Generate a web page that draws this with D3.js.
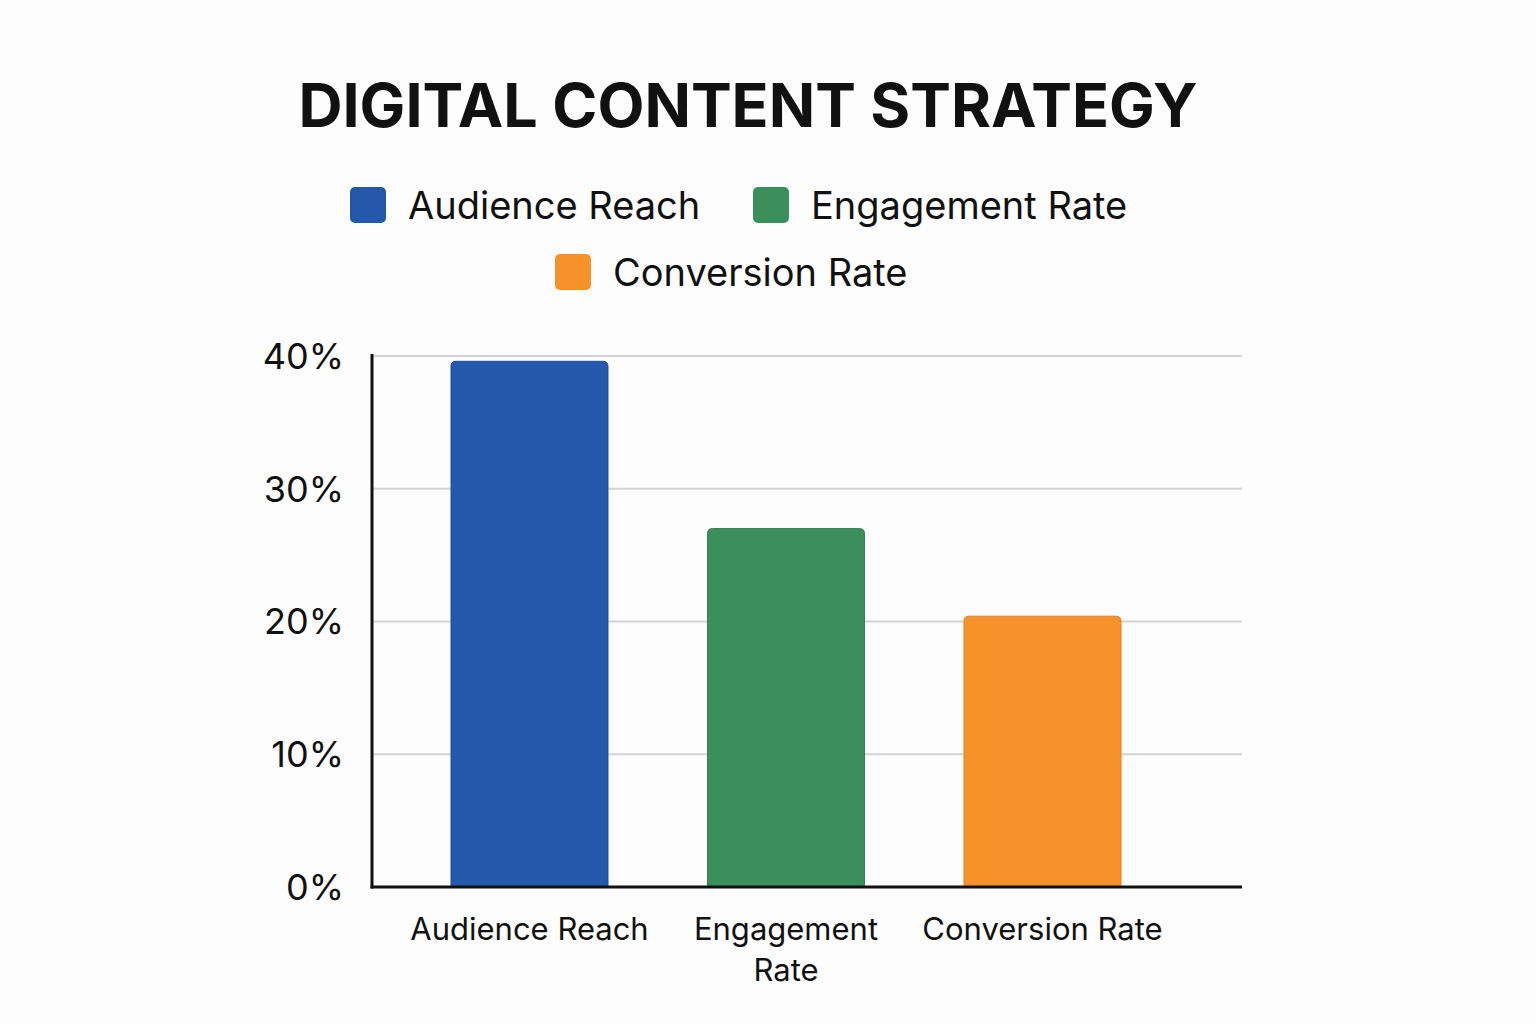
<!DOCTYPE html>
<html>
<head>
<meta charset="utf-8">
<script src="https://cdn.jsdelivr.net/npm/d3@7"></script>
<style>
  body { margin: 0; background: #fdfdfd; }
  text { font-family: Inter, 'Noto Sans', sans-serif; fill: #111; }
</style>
</head>
<body>
<div id="viz"></div>
<script>
// data
const categories = ['Audience Reach', 'Engagement Rate', 'Conversion Rate'];
const axisLabels = [['Audience Reach'], ['Engagement', 'Rate'], ['Conversion Rate']];
const values = [39.6, 27, 20.4];
const colors = ['#2358ac', '#3a8f5b', '#f7922b'];
const yTicks = [0, 10, 20, 30, 40];

const width = 1536;
const height = 1024;

let svg = d3
  .select('#viz')
  .append('svg')
  .attr('width', width)
  .attr('height', height);

svg.append('rect').attr('width', width).attr('height', height).attr('fill', '#fdfdfd');

// scales
const plotLeft = 372, plotRight = 1242, plotTop = 356, plotBottom = 887;
let x = d3.scaleBand()
  .domain(categories)
  .range([plotLeft, 1200])
  .paddingInner(0.388)
  .paddingOuter(0.308);
let y = d3.scaleLinear().domain([0, 40]).range([plotBottom, plotTop]);

// title
svg.append('text')
  .attr('x', 748)
  .attr('y', 127)
  .attr('text-anchor', 'middle')
  .style('font-size', '61px')
  .style('font-weight', 700)
  .text('DIGITAL CONTENT STRATEGY');

// legend
const legendPos = [[350, 187], [753, 187], [555, 254]];
let legend = svg.append('g')
  .selectAll('g')
  .data(categories)
  .enter()
  .append('g')
  .attr('transform', (d, i) => `translate(${legendPos[i][0]},${legendPos[i][1]})`);

legend.append('rect')
  .attr('width', 36)
  .attr('height', 36)
  .attr('rx', 5)
  .attr('fill', (d, i) => colors[i]);

legend.append('text')
  .attr('x', 58)
  .attr('y', 32)
  .style('font-size', '38px')
  .text((d) => d);

// gridlines
svg.append('g')
  .selectAll('line')
  .data(yTicks.slice(1))
  .enter()
  .append('line')
  .attr('x1', plotLeft)
  .attr('x2', plotRight)
  .attr('y1', (d) => y(d))
  .attr('y2', (d) => y(d))
  .attr('stroke', '#d4d4d4')
  .attr('stroke-width', 2);

// y tick labels
svg.append('g')
  .selectAll('text')
  .data(yTicks)
  .enter()
  .append('text')
  .attr('x', 344)
  .attr('y', (d) => y(d))
  .attr('dy', '0.36em')
  .attr('text-anchor', 'end')
  .style('font-size', '36px')
  .text((d) => d + '%');

// bars, rounded top corners only
function barPath(x0, y0, w, h, r) {
  return `M${x0},${y0 + h}V${y0 + r}Q${x0},${y0} ${x0 + r},${y0}` +
    `H${x0 + w - r}Q${x0 + w},${y0} ${x0 + w},${y0 + r}V${y0 + h}Z`;
}

svg.append('g')
  .selectAll('path')
  .data(values)
  .enter()
  .append('path')
  .attr('d', (d, i) => barPath(x(categories[i]), y(d), x.bandwidth(), y(0) - y(d), 5))
  .attr('fill', (d, i) => colors[i])
  .attr('stroke', (d, i) => d3.color(colors[i]).darker(0.3))
  .attr('stroke-width', 1);

// axes lines
svg.append('line')
  .attr('x1', plotLeft).attr('x2', plotLeft)
  .attr('y1', plotTop - 2).attr('y2', plotBottom + 1.5)
  .attr('stroke', '#111').attr('stroke-width', 3);
svg.append('line')
  .attr('x1', plotLeft - 1.5).attr('x2', plotRight)
  .attr('y1', plotBottom).attr('y2', plotBottom)
  .attr('stroke', '#111').attr('stroke-width', 3);

// category labels
let catLabels = svg.append('g')
  .selectAll('text')
  .data(categories)
  .enter()
  .append('text')
  .attr('x', (d) => x(d) + x.bandwidth() / 2)
  .attr('y', 940)
  .attr('text-anchor', 'middle')
  .style('font-size', '31px');

catLabels.each(function (d, i) {
  d3.select(this)
    .selectAll('tspan')
    .data(axisLabels[i])
    .enter()
    .append('tspan')
    .attr('x', x(d) + x.bandwidth() / 2)
    .attr('dy', (t, j) => (j === 0 ? 0 : 41))
    .text((t) => t);
});
</script>
</body>
</html>
